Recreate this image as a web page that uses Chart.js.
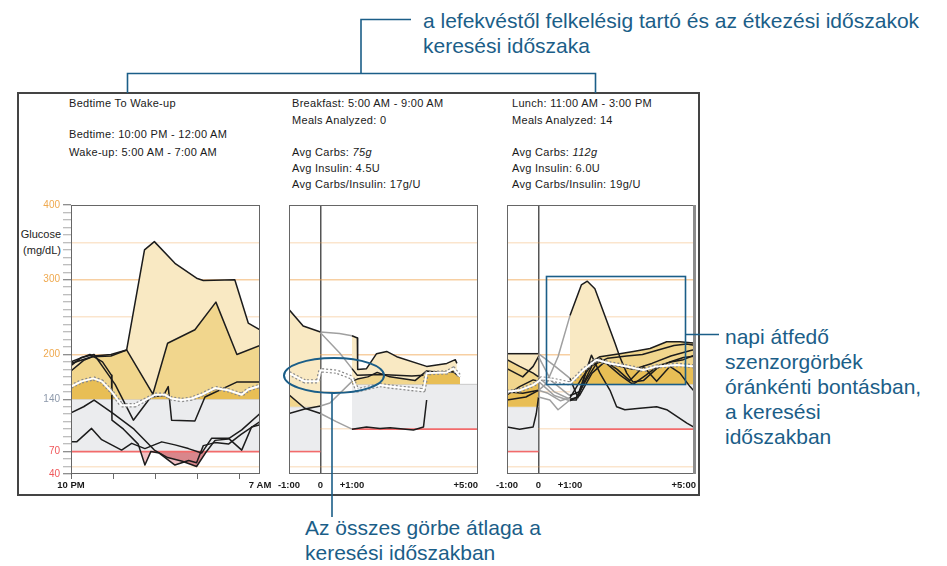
<!DOCTYPE html>
<html><head><meta charset="utf-8">
<script src="https://cdn.jsdelivr.net/npm/chart.js@4.4.1/dist/chart.umd.min.js"></script>
<style>
body{margin:0;width:947px;height:566px;background:#fff;position:relative;overflow:hidden;font-family:"Liberation Sans",Arial,sans-serif}
canvas{position:absolute}
.ann{position:absolute;color:#1b5e88;font-size:21px;line-height:25px;white-space:nowrap}
.pt{position:absolute;font-size:11px;line-height:13px;color:#1a1a1a;white-space:nowrap;letter-spacing:0.3px}
.yt{position:absolute;font-size:11px;line-height:13px;color:#222;white-space:nowrap;text-align:right;width:44px;left:17px}
#frame{position:absolute;left:17px;top:92px;width:679px;height:400px;border:2px solid #444}
svg{position:absolute;left:0;top:0}
</style></head><body>
<div id="frame"></div>

<div class="pt" style="left:69px;top:97px">Bedtime To Wake-up</div>
<div class="pt" style="left:69px;top:128px">Bedtime: 10:00 PM - 12:00 AM</div>
<div class="pt" style="left:69px;top:146px">Wake-up: 5:00 AM - 7:00 AM</div>

<div class="pt" style="left:292px;top:97px">Breakfast: 5:00 AM - 9:00 AM</div>
<div class="pt" style="left:292px;top:114px">Meals Analyzed: 0</div>
<div class="pt" style="left:292px;top:146px">Avg Carbs: <i>75g</i></div>
<div class="pt" style="left:292px;top:162px">Avg Insulin: 4.5U</div>
<div class="pt" style="left:292px;top:178px">Avg Carbs/Insulin: 17g/U</div>

<div class="pt" style="left:512px;top:97px">Lunch: 11:00 AM - 3:00 PM</div>
<div class="pt" style="left:512px;top:114px">Meals Analyzed: 14</div>
<div class="pt" style="left:512px;top:146px">Avg Carbs: <i>112g</i></div>
<div class="pt" style="left:512px;top:162px">Avg Insulin: 6.0U</div>
<div class="pt" style="left:512px;top:178px">Avg Carbs/Insulin: 19g/U</div>

<div class="yt" style="top:228px">Glucose</div>
<div class="yt" style="top:244px">(mg/dL)</div>

<canvas id="c1" width="263" height="306" style="left:17px;top:190px"></canvas>
<canvas id="c2" width="215" height="306" style="left:268px;top:190px"></canvas>
<canvas id="c3" width="217" height="306" style="left:488px;top:190px"></canvas>

<div class="ann" style="left:423px;top:8px">a lefekvéstől felkelésig tartó és az étkezési időszakok<br>keresési időszaka</div>
<div class="ann" style="left:725px;top:324px">napi átfedő<br>szenzorgörbék<br>óránkénti bontásban,<br>a keresési<br>időszakban</div>
<div class="ann" style="left:305px;top:515px">Az összes görbe átlaga a<br>keresési időszakban</div>

<svg width="947" height="566" viewBox="0 0 947 566">
  <g fill="none" stroke="#1b5e88" stroke-width="1.6">
    <polyline points="411,19.5 361,19.5 361,73.5"/>
    <polyline points="127.5,93 127.5,73.5 595.5,73.5 595.5,93"/>
    <ellipse cx="334" cy="375.5" rx="50" ry="17.5" stroke-width="2"/>
    <line x1="332" y1="393" x2="332" y2="517"/>
    <rect x="546.5" y="276.5" width="139" height="108"/>
    <line x1="685" y1="334.5" x2="719" y2="334.5"/>
  </g>
</svg>

<script>
// ---------------- data ----------------
const bedtimeTarget = [70, 140];
const mealPreTarget = [70, 130];
const mealPostTarget = [100, 160];
const bedtimeRange = [0, 9];
const mealRange = [-1, 5];
const mealGap = [0, 1];
const bedtimeTickHours = [0, 2, 4, 6, 8];
const bedtimeLabelHours = [0, 9];
const bedtimeLabels = ['10 PM', '7 AM'];
const mealLabelHours = [-1, 0, 1, 5];
const mealLabels = ['-1:00', '0', '+1:00', '+5:00'];
const glucoseLabels = [400, 300, 200, 140, 70, 40];

// Bedtime to wake-up (hours after 10 PM)
const bedCurveA = [[0,188],[1,197],[1.9,198],[2.65,206],[3.5,340],[3.97,351],[4.95,322],[5.98,302],[6.3,299],[7.8,300],[8.44,242],[9,233]];
const bedCurveB = [[0,178],[0.6,192],[1.1,198],[1.9,200],[2.65,206],[3.9,147],[4.6,215],[5.9,233],[6.9,270],[7.9,200],[9,212]];
const bedCurveC = [[0,185],[0.5,196],[1.1,200],[1.6,180],[2.1,160],[2.97,112],[3.8,143],[4.4,145],[4.63,157],[4.79,112],[5.9,111],[6.38,143],[7.89,163],[9,163]];
const bedCurveD = [[0,122],[0.6,130],[1.1,139],[2.0,121],[3.0,100],[3.97,72],[4.6,62],[5.3,57],[5.98,50],[6.4,68],[6.86,85],[7.49,87],[8.13,99],[9,121]];
const bedCurveE = [[0,83],[0.27,83],[0.98,101],[1.46,86],[2.41,72],[2.89,81],[3.52,74],[4.32,83],[4.95,79],[5.59,74],[6.22,68],[6.7,88],[7.49,88],[8.13,72],[8.6,103],[9,106]];
const bedCurveF = [[0,190],[0.9,200],[1.5,190],[1.93,172],[1.95,112],[2.5,100],[3.2,80],[3.52,52],[3.8,70],[4.2,68],[4.95,52],[5.6,58],[5.98,55],[6.3,78],[6.86,82],[7.5,80],[8.1,93],[9,110]];
const bedAverage = [[0,157],[0.5,164],[1.06,168],[1.46,164],[1.94,150],[2.41,132],[3.05,132],[3.52,139],[4.0,146],[4.48,146],[4.79,141],[5.27,139],[5.75,141],[6.22,146],[6.86,155],[7.49,152],[8.13,146],[8.44,153],[9,158]];

// Breakfast (hours relative to meal)
const brkCurveA = [[-1,260],[-0.55,238],[0,230],[0.6,228],[1,225],[1.17,222],[1.18,180],[1.46,181],[1.78,201],[2.1,204],[2.42,197],[3.37,184],[4.01,188],[4.28,193],[4.33,188]];
const brkCurveB = [[-1,146],[-0.5,128],[0,121],[0.5,110],[1,100],[1.46,103],[1.89,101],[2.21,102],[2.95,99],[3.27,103],[3.37,139]];
const brkCurveC = [[-1,121],[-0.5,127],[0,131],[0.3,135],[1,164],[1.17,167],[1.5,170],[1.8,176],[2.2,170],[3,165],[3.37,178],[3.8,176],[4.2,177],[4.43,170]];
const brkCurveD = [[0,229],[0.61,202],[1,181],[1.17,172],[1.9,173],[2.9,171],[3.27,172]];
const brkAverage = [[-1,175],[-0.5,164],[-0.08,164],[0,179],[0.51,177],[1,169],[1.17,152],[1.89,159],[2.21,157],[3.27,152],[3.37,175],[4.01,176],[4.22,181],[4.43,170]];

// Lunch (hours relative to meal)
const lunCurveA = [[-1,150],[-0.5,148],[0,152],[0.25,161],[0.62,197],[1,252],[1.36,293],[1.55,298],[1.79,288],[2.43,215],[2.58,197],[2.8,175],[3.0,163],[3.33,165],[3.75,181],[4.17,190],[4.6,196],[5,198]];
const lunCurveB = [[-1,201],[-0.5,201],[0,201],[0.5,185],[1,168],[1.25,142],[1.6,188],[1.95,197],[2.58,201],[3.01,204],[3.54,208],[4.07,217],[4.49,217],[5,215]];
const lunCurveC = [[-1,103],[-0.6,100],[-0.17,103],[-0.07,121],[0,143],[0.36,139],[0.62,126],[0.94,137],[1,139],[1.2,139],[1.68,199],[1.95,175],[2.27,152],[2.48,130],[2.74,126],[3.22,128],[3.75,130],[4.07,126],[4.39,117],[4.71,108],[5,101]];
const lunCurveD = [[-1,193],[-0.6,184],[-0.17,175],[0,170],[0.5,150],[1,140],[1.2,142],[1.5,165],[1.95,195],[2.5,180],[2.9,165],[3.33,184],[3.75,164],[4.17,184],[4.49,175],[4.81,157],[5,148]];
const lunCurveE = [[-1,181],[-0.5,170],[-0.17,184],[0,197],[0.4,165],[0.9,148],[1,145],[1.3,150],[1.7,185],[2.2,195],[2.8,198],[3.3,200],[3.8,206],[4.3,212],[4.7,214],[5,212]];
const lunCurveF = [[-1,146],[-0.6,157],[-0.17,166],[0,164],[0.5,145],[1,138],[1.3,145],[1.7,175],[2.1,190],[2.6,172],[3,160],[3.4,172],[3.8,185],[4.2,190],[4.6,193],[5,200]];
const lunCurveG = [[-1,139],[-0.4,143],[0,152],[0.3,148],[0.7,138],[1,142],[1.4,170],[1.8,192],[2.4,186],[3,180],[3.6,188],[4.2,198],[4.8,205],[5,207]];
const lunAverage = [[-1,150],[-0.6,152],[-0.17,159],[0,164],[0.09,168],[0.46,166],[1,161],[1.42,179],[1.84,193],[2.27,188],[2.8,184],[3.33,179],[3.75,184],[4.39,186],[5,184]];

// ---------------- styling helpers ----------------
const FONT = '"Liberation Sans", Arial, sans-serif';
const LIGHT = '#f9e9c3', MEDIUM = '#f1d68d', DARK = '#e8be55', BAND = '#ebecee';
const RED = '#f26b6b', PINK = '#f1c0c3', DEEPPINK = '#d9868b';
const INK = '#1c1c1c', GAPINK = '#a0a0a0', NONE = 'rgba(0,0,0,0)';

const pts = a => a.map(([x, y]) => ({x, y}));
const within = (a, from, to) => pts(a.filter(([x]) => x >= from && x <= to));

function bandSets(from, to, range) {
  return [
    {data: pts([[from, range[1]], [to, range[1]]]), borderColor: '#c9c9c9', borderWidth: 1,
     fill: {target: {value: range[0]}, above: BAND, below: NONE}, backgroundColor: BAND, order: 100},
    {data: pts([[from, range[0]], [to, range[0]]]), borderColor: RED, borderWidth: 1.6, fill: false, order: 50}
  ];
}
function fillSet(curve, from, to, base, color, order) {
  return {data: within(curve, from, to), borderColor: NONE, borderWidth: 0,
          fill: {target: {value: base}, above: color, below: NONE}, backgroundColor: color, order};
}
function lowFillSet(curve, base, color, order) {
  return {data: pts(curve), borderColor: NONE, borderWidth: 0,
          fill: {target: {value: base}, above: NONE, below: color}, backgroundColor: color, order};
}
function curveSet(curve, gap) {
  return {data: pts(curve), borderColor: INK, borderWidth: 1.5, fill: false, order: 20,
          segment: {borderColor: c => (gap && c.p0.parsed.x >= gap[0] && c.p1.parsed.x <= gap[1]) ? GAPINK : undefined}};
}
function avgSets(curve) {
  return [
    {data: pts(curve), borderColor: '#8a8a8a', borderWidth: 4.4, borderDash: [2, 2], fill: false, order: 11},
    {data: pts(curve), borderColor: '#ffffff', borderWidth: 2, fill: false, order: 10}
  ];
}
function gridColor(v) {
  if (v === 300 || v === 200) return 'rgba(240,160,70,0.5)';
  if (v % 50 === 0 && v > 40 && v < 400) return 'rgba(240,160,70,0.27)';
  return NONE;
}
function labelColor(v) {
  if (v >= 200) return '#efa94f';
  if (v === 140) return '#8d99ab';
  return '#f0575a';
}

const xLabelPlugin = {
  id: 'xLabels',
  afterDraw(chart, args, o) {
    const {ctx, chartArea} = chart; const xs = chart.scales.x;
    ctx.save();
    ctx.font = 'bold 9.5px ' + FONT;
    ctx.fillStyle = '#1a1a1a'; ctx.textBaseline = 'middle';
    o.values.forEach((v, i) => {
      ctx.textAlign = (o.lastRight && i === o.values.length - 1) ? 'right' : 'center';
      ctx.fillText(o.labels[i], xs.getPixelForValue(v), chartArea.bottom + 11);
    });
    ctx.restore();
  }
};
const boxPlugin = {
  id: 'box',
  afterDraw(chart, args, o) {
    const {ctx, chartArea: a} = chart;
    ctx.save();
    ctx.strokeStyle = '#666'; ctx.lineWidth = 1;
    ctx.strokeRect(a.left + 0.5, a.top + 0.5, a.right - a.left - 1, a.bottom - a.top - 1);
    if (o.rightEdge) {
      ctx.strokeStyle = '#8c8c8c'; ctx.lineWidth = 3;
      ctx.beginPath(); ctx.moveTo(a.right - 1.5, a.top); ctx.lineTo(a.right - 1.5, a.bottom); ctx.stroke();
    }
    ctx.restore();
  }
};

function yScale(width, show) {
  return {
    type: 'linear', min: 40, max: 400, z: 1,
    afterBuildTicks: s => { const t = []; for (let v = 40; v <= 400; v += 10) t.push({value: v}); s.ticks = t; },
    afterFit: s => { s.width = width; },
    border: {display: show, color: '#555', width: 1},
    grid: {
      drawOnChartArea: true, drawTicks: show, tickLength: 8, lineWidth: 1.5,
      color: c => c.tick ? gridColor(c.tick.value) : NONE,
      tickColor: c => (c.tick && glucoseLabels.includes(c.tick.value)) ? '#6a6a6a' : '#a8a8a8',
      tickWidth: 1
    },
    ticks: {display: show, autoSkip: false, padding: 3,
      callback: v => glucoseLabels.includes(v) ? String(v) : '',
      color: c => labelColor(c.tick.value), font: {size: 10, family: FONT}}
  };
}
function xScale(range, tickVals, grid) {
  return {
    type: 'linear', min: range[0], max: range[1],
    afterBuildTicks: s => { s.ticks = tickVals.map(v => ({value: v})); },
    afterFit: s => { s.height = 22; },
    ticks: {display: false}, border: {display: false}, grid
  };
}
function makeChart(id, datasets, x, y, padRight, labelOpts, rightEdge) {
  return new Chart(document.getElementById(id), {
    type: 'line',
    data: {datasets},
    options: {
      responsive: false, animation: false, devicePixelRatio: 1, events: [],
      layout: {padding: {top: 15, right: padRight, left: 0, bottom: 0}},
      elements: {point: {radius: 0, hoverRadius: 0}, line: {tension: 0, borderJoinStyle: 'round'}},
      plugins: {legend: {display: false}, tooltip: {enabled: false}, xLabels: labelOpts, box: {rightEdge}},
      scales: {x, y}
    },
    plugins: [xLabelPlugin, boxPlugin]
  });
}

// ---------------- panel 1: bedtime ----------------
makeChart('c1', [
  ...bandSets(bedtimeRange[0], bedtimeRange[1], bedtimeTarget),
  fillSet(bedCurveA, 0, 9, bedtimeTarget[1], LIGHT, 90),
  fillSet(bedCurveB, 0, 9, bedtimeTarget[1], MEDIUM, 85),
  fillSet(bedAverage, 0, 9, bedtimeTarget[1], DARK, 80),
  lowFillSet(bedCurveF, bedtimeTarget[0], PINK, 75),
  lowFillSet(bedCurveD, bedtimeTarget[0], DEEPPINK, 74),
  ...[bedCurveA, bedCurveB, bedCurveC, bedCurveD, bedCurveE, bedCurveF].map(c => curveSet(c, null)),
  ...avgSets(bedAverage)
],
  xScale(bedtimeRange, bedtimeTickHours, {drawOnChartArea: false, drawTicks: true, tickLength: 5, color: '#6a6a6a'}),
  yScale(54, true), 20,
  {values: bedtimeLabelHours, labels: bedtimeLabels, lastRight: false}, false);

// ---------------- meal panels ----------------
const zeroGrid = {drawOnChartArea: true, drawTicks: false, lineWidth: 1.5,
  color: c => (c.tick && c.tick.value === 0) ? '#555' : NONE};

makeChart('c2', [
  ...bandSets(-1, 0, mealPreTarget),
  ...bandSets(1, 5, mealPostTarget),
  fillSet(brkCurveA, -1, 0, mealPreTarget[1], LIGHT, 90),
  fillSet(brkCurveB, -1, 0, mealPreTarget[1], MEDIUM, 85),
  fillSet(brkCurveA, 1, 5, mealPostTarget[1], LIGHT, 90),
  fillSet(brkCurveC, 1, 5, mealPostTarget[1], MEDIUM, 85),
  fillSet(brkAverage, 1, 5, mealPostTarget[1], DARK, 80),
  ...[brkCurveA, brkCurveB, brkCurveC, brkCurveD].map(c => curveSet(c, mealGap)),
  ...avgSets(brkAverage)
],
  xScale(mealRange, mealLabelHours, zeroGrid),
  yScale(21, false), 5,
  {values: mealLabelHours, labels: mealLabels, lastRight: true}, false);

makeChart('c3', [
  ...bandSets(-1, 0, mealPreTarget),
  ...bandSets(1, 5, mealPostTarget),
  fillSet(lunCurveB, -1, 0, mealPreTarget[1], LIGHT, 90),
  fillSet(lunCurveD, -1, 0, mealPreTarget[1], MEDIUM, 85),
  fillSet(lunAverage, -1, 0, mealPreTarget[1], DARK, 80),
  fillSet(lunCurveA, 1, 5, mealPostTarget[1], LIGHT, 90),
  fillSet(lunCurveB, 1, 5, mealPostTarget[1], MEDIUM, 85),
  fillSet(lunAverage, 1, 5, mealPostTarget[1], DARK, 80),
  ...[lunCurveA, lunCurveB, lunCurveC, lunCurveD, lunCurveE, lunCurveF, lunCurveG].map(c => curveSet(c, mealGap)),
  ...avgSets(lunAverage)
],
  xScale(mealRange, mealLabelHours, zeroGrid),
  yScale(19, false), 9,
  {values: mealLabelHours, labels: mealLabels, lastRight: true}, true);
</script>
</body></html>
